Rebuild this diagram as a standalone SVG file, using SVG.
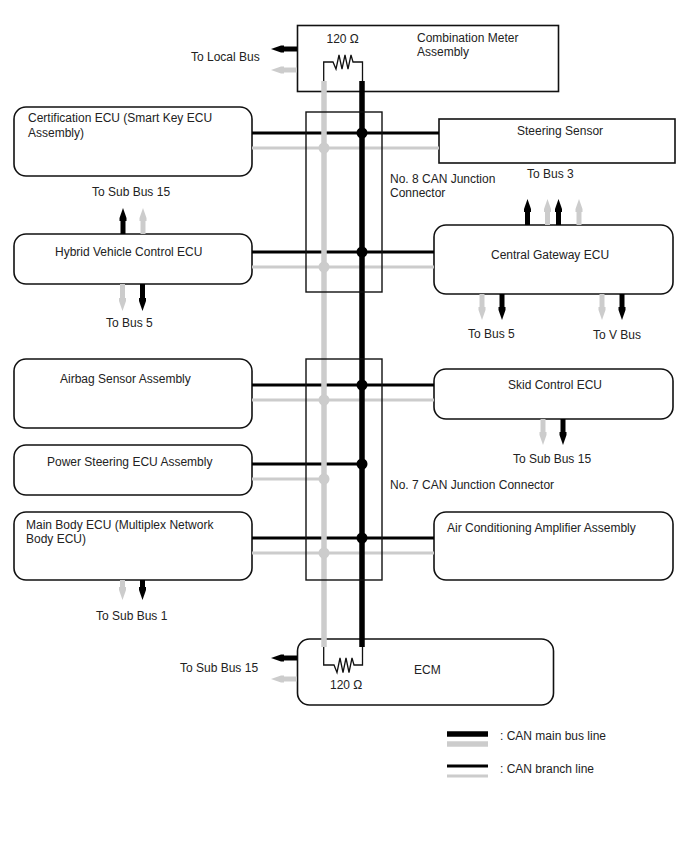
<svg xmlns="http://www.w3.org/2000/svg" width="688" height="852" viewBox="0 0 688 852">
<style>
text{font-family:"Liberation Sans",Arial,sans-serif;font-size:12px;fill:#222}
.box{fill:#fff;stroke:#111;stroke-width:1.6}
.jc{fill:none;stroke:#111;stroke-width:1.4}
.bk{stroke:#000;stroke-width:3;fill:none}
.gr{stroke:#ccc;stroke-width:3;fill:none}
.mbk{stroke:#000;stroke-width:5.5;fill:none}
.mgr{stroke:#ccc;stroke-width:5.5;fill:none}
.res{stroke:#111;stroke-width:1.3;fill:none}
.abk{stroke:#000;stroke-width:5;marker-end:url(#hb)}
.agr{stroke:#ccc;stroke-width:5;marker-end:url(#hg)}
</style>
<defs>
<marker id="hb" markerUnits="userSpaceOnUse" markerWidth="13" markerHeight="8" refX="0" refY="4" orient="auto" viewBox="0 0 13 8"><path d="M0 .5L3 .5L13 4L3 7.500L0 7.500Z" fill="#000"/></marker>
<marker id="hg" markerUnits="userSpaceOnUse" markerWidth="13" markerHeight="8" refX="0" refY="4" orient="auto" viewBox="0 0 13 8"><path d="M0 .5L3 .5L13 4L3 7.500L0 7.500Z" fill="#ccc"/></marker>
</defs>
<g id="combination-meter"><rect class="box" x="297.500" y="25.500" width="261" height="66"/><text x="417" y="42">Combination Meter</text><text x="417" y="56">Assembly</text></g>
<g id="certification-ecu"><rect class="box" x="14" y="107" width="238" height="69" rx="12"/><text x="28" y="122">Certification ECU (Smart Key ECU</text><text x="28" y="137">Assembly)</text></g>
<g id="steering-sensor"><rect class="box" x="439" y="119" width="236" height="44"/><text x="517" y="135">Steering Sensor</text></g>
<g id="hybrid-ecu"><rect class="box" x="14" y="234" width="238" height="50" rx="12"/><text x="55" y="256">Hybrid Vehicle Control ECU</text></g>
<g id="central-gateway"><rect class="box" x="434" y="225" width="239" height="69" rx="12"/><text x="491" y="259">Central Gateway ECU</text></g>
<g id="airbag-sensor"><rect class="box" x="14" y="359" width="238" height="69" rx="12"/><text x="60" y="383">Airbag Sensor Assembly</text></g>
<g id="skid-control"><rect class="box" x="434" y="369" width="239" height="50" rx="12"/><text x="508" y="389">Skid Control ECU</text></g>
<g id="power-steering"><rect class="box" x="14" y="445" width="238" height="50" rx="12"/><text x="47" y="466">Power Steering ECU Assembly</text></g>
<g id="main-body"><rect class="box" x="14" y="512" width="238" height="68" rx="12"/><text x="26" y="529">Main Body ECU (Multiplex Network</text><text x="26" y="543">Body ECU)</text></g>
<g id="air-conditioning"><rect class="box" x="434" y="512" width="239" height="68" rx="12"/><text x="447" y="532">Air Conditioning Amplifier Assembly</text></g>
<g id="ecm"><rect class="box" x="297.500" y="639" width="256" height="66" rx="12"/><text x="414" y="674">ECM</text></g>
<g id="connectors">
<path class="gr" d="M252 148H439M252 267H434M252 400H434M252 479H324M252 553H434"/>
<path class="bk" d="M252 133H439M252 252H434M252 385H434M252 464H362M252 538H434"/>
<path class="mgr" d="M324 81V647"/>
<path class="mbk" d="M362 81V647"/>
<g fill="#ccc"><circle cx="324" cy="148" r="5.500"/><circle cx="324" cy="267" r="5.500"/><circle cx="324" cy="400" r="5.500"/><circle cx="324" cy="479" r="5.500"/><circle cx="324" cy="553" r="5.500"/></g>
<g fill="#000"><circle cx="362" cy="133" r="5.500"/><circle cx="362" cy="252" r="5.500"/><circle cx="362" cy="385" r="5.500"/><circle cx="362" cy="464" r="5.500"/><circle cx="362" cy="538" r="5.500"/></g>
<!-- terminating resistors across the main bus pair -->
<path class="res" d="M323.700 81V62H333L336 69L339 55L342 69L345 55L348 69L351 55L353 62H362.500V81"/>
<path class="res" d="M323.700 647V665H334L337 672.500L340 658L343 672.500L346 658L349 672.500L352 658L354 665H362.500V647"/>
<!-- bus stubs leaving the ECUs -->
<path class="abk" d="M297 49H284"/><path class="agr" d="M297 70H284"/>
<path class="abk" d="M297 658H284"/><path class="agr" d="M297 679H284"/>
<path class="abk" d="M123 234V221"/><path class="agr" d="M143 234V221"/>
<path class="agr" d="M122.500 284V298"/><path class="abk" d="M142.500 284V298"/>
<path class="abk" d="M527.500 225V212"/><path class="agr" d="M547.500 225V212"/><path class="abk" d="M558.500 225V212"/><path class="agr" d="M579 225V212"/>
<path class="agr" d="M482 294V307"/><path class="abk" d="M502 294V307"/><path class="agr" d="M602 294V307"/><path class="abk" d="M622 294V307"/>
<path class="agr" d="M543 419V432"/><path class="abk" d="M563 419V432"/>
<path class="agr" d="M122.500 580V587"/><path class="abk" d="M142.500 580V587"/>
</g>
<g id="junction-8"><rect class="jc" x="306" y="112" width="76" height="180"/><text x="390" y="183">No. 8 CAN Junction</text><text x="390" y="197">Connector</text></g>
<g id="junction-7"><rect class="jc" x="306" y="359" width="76" height="221"/><text x="390" y="489">No. 7 CAN Junction Connector</text></g>
<g id="labels">
<text x="326.500" y="43">120 Ω</text><text x="330" y="689">120 Ω</text>
<text x="191" y="61">To Local Bus</text>
<text x="180" y="672">To Sub Bus 15</text>
<text x="92" y="196">To Sub Bus 15</text>
<text x="106" y="327">To Bus 5</text>
<text x="527" y="178">To Bus 3</text>
<text x="468" y="338">To Bus 5</text>
<text x="593" y="339">To V Bus</text>
<text x="513" y="463">To Sub Bus 15</text>
<text x="96" y="620">To Sub Bus 1</text>
</g>
<g id="legend">
<path class="mbk" d="M447 734H488"/><path class="mgr" d="M447 744H488"/>
<path class="bk" d="M447 766H488"/><path class="gr" d="M447 776H488"/>
<text x="500" y="740">: CAN main bus line</text>
<text x="500" y="773">: CAN branch line</text>
</g>
</svg>
